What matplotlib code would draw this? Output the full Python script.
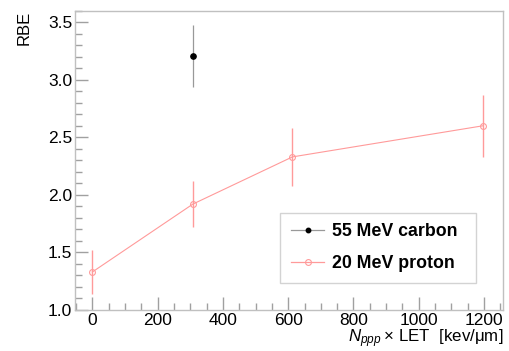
import matplotlib
matplotlib.use("Agg")
import matplotlib.pyplot as plt
from matplotlib.ticker import MultipleLocator
from matplotlib.lines import Line2D

plt.rcParams['font.family'] = ['Liberation Sans', 'DejaVu Sans']
plt.rcParams['mathtext.fontset'] = 'custom'
plt.rcParams['mathtext.it'] = 'Liberation Sans:italic'
plt.rcParams['mathtext.rm'] = 'Liberation Sans'

carbon_x = [308]
carbon_y = [3.21]
carbon_err = [0.27]

proton_x = [0, 308, 613, 1196]
proton_y = [1.33, 1.92, 2.33, 2.60]
proton_err_lo = [0.19, 0.20, 0.25, 0.27]
proton_err_hi = [0.19, 0.20, 0.25, 0.27]

labels = ['55 MeV carbon', '20 MeV proton']

red = '#ff9a9a'
fig = plt.figure(figsize=(5.09, 3.51), dpi=100)
ax = fig.add_axes([75/509, (351-310)/351, (503-75)/509, (310-10.7)/351])

ax.errorbar(carbon_x, carbon_y, yerr=carbon_err, fmt='o', color='black',
            ecolor='#999999', elinewidth=0.9, markersize=3.8, capsize=0)
ax.errorbar(proton_x, proton_y, yerr=[proton_err_lo, proton_err_hi], fmt='-o',
            color=red, ecolor=red, elinewidth=1.0, lw=0.8,
            markersize=4.2, mfc='none', mec=red, mew=0.8, capsize=0)

ax.set_xlim(-53, 1258)
ax.set_ylim(1.0, 3.6)

for s in ax.spines.values():
    s.set_color('#c0c0c0')
    s.set_linewidth(1.0)

ax.xaxis.set_major_locator(MultipleLocator(200))
ax.xaxis.set_minor_locator(MultipleLocator(50))
ax.yaxis.set_major_locator(MultipleLocator(0.5))
ax.yaxis.set_minor_locator(MultipleLocator(0.1))
ax.tick_params(which='both', direction='in', color='#a0a0a0', top=False, right=False,
               labelsize=12.5)
ax.tick_params(axis='y', pad=2)
ax.tick_params(axis='x', pad=2)
ax.tick_params(which='major', length=9.5, width=1)
ax.tick_params(which='minor', length=5, width=1)
ax.set_yticks([1.0, 1.5, 2.0, 2.5, 3.0, 3.5])
ax.set_yticklabels(['1.0', '1.5', '2.0', '2.5', '3.0', '3.5'])

ax.set_ylabel('RBE', fontsize=12, loc='top', labelpad=12)
ax.set_xlabel(r'$N_{ppp}$' + '\u2009\u00d7 LET  [kev/\u03bcm]', fontsize=12.2,
              loc='right', labelpad=0)

handles = [
    Line2D([], [], color='#999999', lw=0.9, marker='o', markersize=3.2,
           mfc='black', mec='black'),
    Line2D([], [], color=red, lw=0.9, marker='o', markersize=4.2,
           mfc='none', mec=red, mew=0.8),
]
leg = ax.legend(handles, labels, loc='lower left',
                bbox_to_anchor=((280-75)/428, (310-283)/299.3,
                                (476-280)/428, (283-204)/299.3), mode='expand',
                prop={'weight': 'bold', 'size': 12.8}, frameon=True, fancybox=False,
                edgecolor='#c8c8c8', borderpad=0.6, labelspacing=0.85,
                handlelength=1.9, handletextpad=0.45, borderaxespad=0)
leg.get_frame().set_linewidth(1.0)

fig.savefig('out.png', dpi=100)
